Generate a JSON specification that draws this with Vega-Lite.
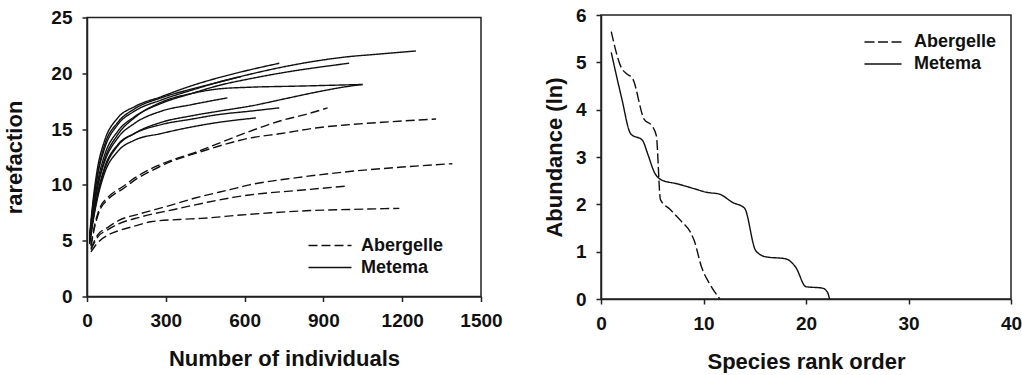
{
  "$schema": "https://vega.github.io/schema/vega-lite/v6.json",
  "background": "white",
  "padding": {"left": 3, "top": 5, "right": 0, "bottom": 0},
  "bounds": "flush",
  "spacing": 120,
  "center": true,
  "datasets": {
    "rare": [
      {"c":"A1","s":"Abergelle","n":15,"r":4.5},{"c":"A1","s":"Abergelle","n":30,"r":6.3},{"c":"A1","s":"Abergelle","n":50,"r":7.8},{"c":"A1","s":"Abergelle","n":80,"r":8.7},{"c":"A1","s":"Abergelle","n":140,"r":9.7},{"c":"A1","s":"Abergelle","n":180,"r":10.4},{"c":"A1","s":"Abergelle","n":240,"r":11.2},{"c":"A1","s":"Abergelle","n":320,"r":12.1},{"c":"A1","s":"Abergelle","n":410,"r":12.8},{"c":"A1","s":"Abergelle","n":520,"r":13.6},{"c":"A1","s":"Abergelle","n":620,"r":14.2},{"c":"A1","s":"Abergelle","n":740,"r":14.6},{"c":"A1","s":"Abergelle","n":870,"r":15.1},{"c":"A1","s":"Abergelle","n":1000,"r":15.4},{"c":"A1","s":"Abergelle","n":1150,"r":15.65},{"c":"A1","s":"Abergelle","n":1329,"r":15.9},
      {"c":"A2","s":"Abergelle","n":15,"r":4.6},{"c":"A2","s":"Abergelle","n":30,"r":6.5},{"c":"A2","s":"Abergelle","n":50,"r":8.0},{"c":"A2","s":"Abergelle","n":80,"r":8.9},{"c":"A2","s":"Abergelle","n":140,"r":9.9},{"c":"A2","s":"Abergelle","n":180,"r":10.6},{"c":"A2","s":"Abergelle","n":240,"r":11.4},{"c":"A2","s":"Abergelle","n":320,"r":12.2},{"c":"A2","s":"Abergelle","n":410,"r":12.9},{"c":"A2","s":"Abergelle","n":520,"r":13.9},{"c":"A2","s":"Abergelle","n":620,"r":14.8},{"c":"A2","s":"Abergelle","n":745,"r":15.8},{"c":"A2","s":"Abergelle","n":830,"r":16.3},{"c":"A2","s":"Abergelle","n":916,"r":16.9},
      {"c":"A3","s":"Abergelle","n":15,"r":4.3},{"c":"A3","s":"Abergelle","n":40,"r":5.5},{"c":"A3","s":"Abergelle","n":80,"r":6.2},{"c":"A3","s":"Abergelle","n":120,"r":6.8},{"c":"A3","s":"Abergelle","n":200,"r":7.4},{"c":"A3","s":"Abergelle","n":307,"r":8.1},{"c":"A3","s":"Abergelle","n":408,"r":8.8},{"c":"A3","s":"Abergelle","n":548,"r":9.6},{"c":"A3","s":"Abergelle","n":618,"r":10.0},{"c":"A3","s":"Abergelle","n":800,"r":10.65},{"c":"A3","s":"Abergelle","n":999,"r":11.2},{"c":"A3","s":"Abergelle","n":1200,"r":11.6},{"c":"A3","s":"Abergelle","n":1391,"r":11.9},
      {"c":"A4","s":"Abergelle","n":15,"r":4.2},{"c":"A4","s":"Abergelle","n":40,"r":5.3},{"c":"A4","s":"Abergelle","n":80,"r":6.0},{"c":"A4","s":"Abergelle","n":120,"r":6.5},{"c":"A4","s":"Abergelle","n":200,"r":7.1},{"c":"A4","s":"Abergelle","n":332,"r":7.8},{"c":"A4","s":"Abergelle","n":450,"r":8.4},{"c":"A4","s":"Abergelle","n":561,"r":8.9},{"c":"A4","s":"Abergelle","n":618,"r":9.1},{"c":"A4","s":"Abergelle","n":800,"r":9.5},{"c":"A4","s":"Abergelle","n":992,"r":9.9},
      {"c":"A5","s":"Abergelle","n":15,"r":4.0},{"c":"A5","s":"Abergelle","n":40,"r":4.8},{"c":"A5","s":"Abergelle","n":80,"r":5.5},{"c":"A5","s":"Abergelle","n":120,"r":5.9},{"c":"A5","s":"Abergelle","n":180,"r":6.3},{"c":"A5","s":"Abergelle","n":243,"r":6.7},{"c":"A5","s":"Abergelle","n":350,"r":6.9},{"c":"A5","s":"Abergelle","n":434,"r":7.0},{"c":"A5","s":"Abergelle","n":586,"r":7.3},{"c":"A5","s":"Abergelle","n":700,"r":7.5},{"c":"A5","s":"Abergelle","n":850,"r":7.7},{"c":"A5","s":"Abergelle","n":1000,"r":7.8},{"c":"A5","s":"Abergelle","n":1189,"r":7.9},
      {"c":"M1","s":"Metema","n":10,"r":5.2},{"c":"M1","s":"Metema","n":25,"r":8.5},{"c":"M1","s":"Metema","n":40,"r":10.8},{"c":"M1","s":"Metema","n":66,"r":13.2},{"c":"M1","s":"Metema","n":117,"r":15.4},{"c":"M1","s":"Metema","n":180,"r":16.6},{"c":"M1","s":"Metema","n":282,"r":17.6},{"c":"M1","s":"Metema","n":400,"r":18.5},{"c":"M1","s":"Metema","n":500,"r":19.2},{"c":"M1","s":"Metema","n":618,"r":19.9},{"c":"M1","s":"Metema","n":732,"r":20.5},{"c":"M1","s":"Metema","n":872,"r":21.1},{"c":"M1","s":"Metema","n":1000,"r":21.5},{"c":"M1","s":"Metema","n":1100,"r":21.7},{"c":"M1","s":"Metema","n":1252,"r":22.0},
      {"c":"M2","s":"Metema","n":10,"r":5.5},{"c":"M2","s":"Metema","n":25,"r":9.0},{"c":"M2","s":"Metema","n":40,"r":11.5},{"c":"M2","s":"Metema","n":66,"r":13.9},{"c":"M2","s":"Metema","n":117,"r":16.0},{"c":"M2","s":"Metema","n":180,"r":17.0},{"c":"M2","s":"Metema","n":282,"r":17.9},{"c":"M2","s":"Metema","n":400,"r":18.9},{"c":"M2","s":"Metema","n":500,"r":19.6},{"c":"M2","s":"Metema","n":618,"r":20.3},{"c":"M2","s":"Metema","n":732,"r":20.9},
      {"c":"M3","s":"Metema","n":10,"r":5.0},{"c":"M3","s":"Metema","n":25,"r":8.0},{"c":"M3","s":"Metema","n":40,"r":10.2},{"c":"M3","s":"Metema","n":66,"r":12.6},{"c":"M3","s":"Metema","n":117,"r":14.8},{"c":"M3","s":"Metema","n":180,"r":16.1},{"c":"M3","s":"Metema","n":282,"r":17.3},{"c":"M3","s":"Metema","n":400,"r":18.2},{"c":"M3","s":"Metema","n":500,"r":18.9},{"c":"M3","s":"Metema","n":618,"r":19.5},{"c":"M3","s":"Metema","n":783,"r":20.2},{"c":"M3","s":"Metema","n":900,"r":20.6},{"c":"M3","s":"Metema","n":998,"r":20.9},
      {"c":"M4","s":"Metema","n":10,"r":5.0},{"c":"M4","s":"Metema","n":25,"r":7.8},{"c":"M4","s":"Metema","n":40,"r":9.8},{"c":"M4","s":"Metema","n":66,"r":12.2},{"c":"M4","s":"Metema","n":117,"r":14.5},{"c":"M4","s":"Metema","n":180,"r":16.0},{"c":"M4","s":"Metema","n":282,"r":17.4},{"c":"M4","s":"Metema","n":400,"r":18.2},{"c":"M4","s":"Metema","n":500,"r":18.6},{"c":"M4","s":"Metema","n":618,"r":18.75},{"c":"M4","s":"Metema","n":800,"r":18.85},{"c":"M4","s":"Metema","n":1049,"r":19.0},
      {"c":"M5","s":"Metema","n":10,"r":4.8},{"c":"M5","s":"Metema","n":25,"r":7.2},{"c":"M5","s":"Metema","n":40,"r":9.0},{"c":"M5","s":"Metema","n":66,"r":11.3},{"c":"M5","s":"Metema","n":117,"r":13.5},{"c":"M5","s":"Metema","n":180,"r":14.6},{"c":"M5","s":"Metema","n":282,"r":15.6},{"c":"M5","s":"Metema","n":400,"r":16.2},{"c":"M5","s":"Metema","n":500,"r":16.6},{"c":"M5","s":"Metema","n":630,"r":17.1},{"c":"M5","s":"Metema","n":750,"r":17.7},{"c":"M5","s":"Metema","n":870,"r":18.3},{"c":"M5","s":"Metema","n":986,"r":18.8},{"c":"M5","s":"Metema","n":1049,"r":19.0},
      {"c":"M6","s":"Metema","n":10,"r":5.3},{"c":"M6","s":"Metema","n":25,"r":8.6},{"c":"M6","s":"Metema","n":40,"r":11.0},{"c":"M6","s":"Metema","n":66,"r":13.5},{"c":"M6","s":"Metema","n":117,"r":15.6},{"c":"M6","s":"Metema","n":180,"r":16.8},{"c":"M6","s":"Metema","n":282,"r":17.8},{"c":"M6","s":"Metema","n":400,"r":18.6},{"c":"M6","s":"Metema","n":500,"r":19.2},{"c":"M6","s":"Metema","n":586,"r":19.7},
      {"c":"M7","s":"Metema","n":10,"r":5.0},{"c":"M7","s":"Metema","n":25,"r":7.8},{"c":"M7","s":"Metema","n":40,"r":9.8},{"c":"M7","s":"Metema","n":66,"r":12.0},{"c":"M7","s":"Metema","n":117,"r":14.2},{"c":"M7","s":"Metema","n":180,"r":15.5},{"c":"M7","s":"Metema","n":282,"r":16.6},{"c":"M7","s":"Metema","n":400,"r":17.2},{"c":"M7","s":"Metema","n":535,"r":17.8},
      {"c":"M8","s":"Metema","n":10,"r":4.8},{"c":"M8","s":"Metema","n":25,"r":7.2},{"c":"M8","s":"Metema","n":40,"r":9.2},{"c":"M8","s":"Metema","n":66,"r":11.5},{"c":"M8","s":"Metema","n":117,"r":13.6},{"c":"M8","s":"Metema","n":180,"r":14.6},{"c":"M8","s":"Metema","n":282,"r":15.4},{"c":"M8","s":"Metema","n":400,"r":15.9},{"c":"M8","s":"Metema","n":500,"r":16.3},{"c":"M8","s":"Metema","n":618,"r":16.6},{"c":"M8","s":"Metema","n":732,"r":16.9},
      {"c":"M9","s":"Metema","n":10,"r":4.7},{"c":"M9","s":"Metema","n":25,"r":7.0},{"c":"M9","s":"Metema","n":40,"r":8.8},{"c":"M9","s":"Metema","n":66,"r":11.0},{"c":"M9","s":"Metema","n":117,"r":13.0},{"c":"M9","s":"Metema","n":180,"r":14.0},{"c":"M9","s":"Metema","n":282,"r":14.6},{"c":"M9","s":"Metema","n":400,"r":15.2},{"c":"M9","s":"Metema","n":500,"r":15.6},{"c":"M9","s":"Metema","n":643,"r":16.0}
    ],
    "rank": [
      {"s":"Abergelle","k":1,"a":5.65},{"s":"Abergelle","k":2,"a":4.88},{"s":"Abergelle","k":2.5,"a":4.76},{"s":"Abergelle","k":3.1,"a":4.65},{"s":"Abergelle","k":4.2,"a":3.8},{"s":"Abergelle","k":5,"a":3.65},{"s":"Abergelle","k":5.4,"a":3.45},{"s":"Abergelle","k":5.8,"a":2.1},{"s":"Abergelle","k":6.7,"a":1.9},{"s":"Abergelle","k":7.8,"a":1.65},{"s":"Abergelle","k":8.8,"a":1.38},{"s":"Abergelle","k":9.1,"a":1.23},{"s":"Abergelle","k":9.8,"a":0.68},{"s":"Abergelle","k":10.6,"a":0.32},{"s":"Abergelle","k":11.6,"a":0.0},
      {"s":"Metema","k":1,"a":5.21},{"s":"Metema","k":2,"a":4.26},{"s":"Metema","k":2.9,"a":3.49},{"s":"Metema","k":4.05,"a":3.35},{"s":"Metema","k":4.55,"a":3.07},{"s":"Metema","k":5.2,"a":2.68},{"s":"Metema","k":5.85,"a":2.52},{"s":"Metema","k":7.5,"a":2.43},{"s":"Metema","k":9.1,"a":2.33},{"s":"Metema","k":10.4,"a":2.25},{"s":"Metema","k":11.5,"a":2.22},{"s":"Metema","k":12.85,"a":2.04},{"s":"Metema","k":14.0,"a":1.92},{"s":"Metema","k":15.1,"a":1.02},{"s":"Metema","k":16.1,"a":0.89},{"s":"Metema","k":18.0,"a":0.85},{"s":"Metema","k":19.0,"a":0.67},{"s":"Metema","k":20.0,"a":0.26},{"s":"Metema","k":21.6,"a":0.23},{"s":"Metema","k":22.1,"a":0.14},{"s":"Metema","k":22.3,"a":0.0}
    ]
  },
  "hconcat": [
    {
      "width": 394,
      "height": 279,
      "data": {"name": "rare"},
      "mark": {"type": "line", "color": "#111", "strokeWidth": 1.4, "interpolate": "monotone"},
      "encoding": {
        "x": {"field": "n", "type": "quantitative", "scale": {"domain": [0, 1500], "nice": false}, "axis": {"values": [0, 300, 600, 900, 1200, 1500], "format": "d", "title": "Number of individuals"}},
        "y": {"field": "r", "type": "quantitative", "scale": {"domain": [0, 25], "nice": false}, "axis": {"values": [0, 5, 10, 15, 20, 25], "title": "rarefaction", "titlePadding": 24}},
        "detail": {"field": "c"},
        "strokeDash": {"field": "s", "type": "nominal", "scale": {"domain": ["Abergelle", "Metema"], "range": [[9, 4], [1, 0]]},
          "legend": {"title": null, "orient": "none", "legendX": 232, "legendY": 217, "symbolType": "M-2.15,0H2.15", "labelOffset": 20}}
      }
    },
    {
      "width": 410,
      "height": 284,
      "data": {"name": "rank"},
      "mark": {"type": "line", "color": "#111", "strokeWidth": 1.4, "interpolate": "monotone"},
      "encoding": {
        "x": {"field": "k", "type": "quantitative", "scale": {"domain": [0, 40], "nice": false}, "axis": {"values": [0, 10, 20, 30, 40], "title": "Species rank order"}},
        "y": {"field": "a", "type": "quantitative", "scale": {"domain": [0, 6], "nice": false}, "axis": {"values": [0, 1, 2, 3, 4, 5, 6], "title": "Abundance (ln)", "titlePadding": 9}},
        "detail": {"field": "s"},
        "strokeDash": {"field": "s", "type": "nominal", "scale": {"domain": ["Abergelle", "Metema"], "range": [[10, 3.5], [1, 0]]},
          "legend": {"title": null, "orient": "none", "legendX": 271, "legendY": 16, "symbolType": "M-1.85,0H1.85", "labelOffset": 20}}
      }
    }
  ],
  "resolve": {"scale": {"strokeDash": "independent"}, "legend": {"strokeDash": "independent"}},
  "config": {
    "font": "Liberation Sans",
    "view": {"stroke": "#222", "strokeWidth": 1.5},
    "axis": {
      "grid": false,
      "domainColor": "#222", "domainWidth": 1.5,
      "tickColor": "#222", "tickWidth": 1.5, "tickSize": 5,
      "labelFont": "Liberation Sans", "labelFontSize": 19, "labelFontWeight": "bold", "labelColor": "#111", "labelPadding": 10,
      "titleFont": "Liberation Sans", "titleFontSize": 22, "titleFontWeight": "bold", "titleColor": "#111"
    },
    "axisX": {"titlePadding": 18, "labelFlush": false},
    "axisY": {"labelFlush": false},
    "legend": {
      "padding": 0,
      "symbolSize": 400,
      "symbolStrokeWidth": 1.4,
      "symbolStrokeColor": "#111",
      "labelFont": "Liberation Sans", "labelFontSize": 18, "labelFontWeight": "bold", "labelColor": "#111",
      "rowPadding": 2
    }
  }
}
